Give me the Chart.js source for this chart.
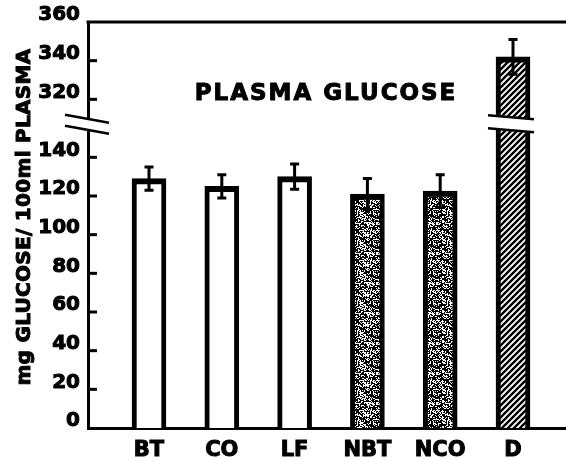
<!DOCTYPE html>
<html>
<head>
<meta charset="utf-8">
<script src="https://cdn.jsdelivr.net/npm/chart.js@4.4.1/dist/chart.umd.min.js"></script>
<style>
  body { margin: 0; background: #fff; }
  #wrap { width: 566px; height: 461px; position: relative; }
</style>
</head>
<body>
<div id="wrap"><canvas id="glucoseChart"></canvas></div>
<script>
const categories = ['BT', 'CO', 'LF', 'NBT', 'NCO', 'D'];
const glucose = [129, 125, 130, 121, 122.5, 342];
const glucoseErr = [6, 6, 6.5, 8, 8.5, 9];
const yTicks = [0, 20, 40, 60, 80, 100, 120, 140, 320, 340, 360];

// broken y axis: 140..320 is squeezed into a short gap
const BREAK_LOW = 140;
const BREAK_HIGH = 320;
const BREAK_GAP = 30;

function toAxis(v) {
  if (v <= BREAK_LOW) return v;
  if (v >= BREAK_HIGH) return v - BREAK_HIGH + BREAK_LOW + BREAK_GAP;
  return BREAK_LOW + BREAK_GAP / 2;
}
function fromAxis(v) {
  return v <= BREAK_LOW ? v : v - BREAK_LOW - BREAK_GAP + BREAK_HIGH;
}

const FONT = 'DejaVu Sans';
const canvas = document.getElementById('glucoseChart');
const ctx = canvas.getContext('2d');

// speckled grey texture (fixed hash, not data)
function stipplePattern() {
  const n = 30;
  const c = document.createElement('canvas');
  c.width = n; c.height = n;
  const g = c.getContext('2d');
  g.fillStyle = '#000';
  g.fillRect(0, 0, n, n);
  g.fillStyle = '#fff';
  for (let i = 0; i < n; i++) {
    for (let j = 0; j < n; j++) {
      const h = Math.sin(i * 12.9898 + j * 78.233) * 43758.5453;
      if (h - Math.floor(h) < 0.42) g.fillRect(i, j, 1, 1);
    }
  }
  return ctx.createPattern(c, 'repeat');
}

function hatchPattern() {
  const c = document.createElement('canvas');
  c.width = 6; c.height = 6;
  const g = c.getContext('2d');
  g.fillStyle = '#fff';
  g.fillRect(0, 0, 6, 6);
  g.strokeStyle = '#000';
  g.lineWidth = 2.4;
  g.beginPath();
  g.moveTo(-1, 7); g.lineTo(7, -1);
  g.moveTo(-4, 4); g.lineTo(4, -4);
  g.moveTo(2, 10); g.lineTo(10, 2);
  g.stroke();
  return ctx.createPattern(c, 'repeat');
}

const stipple = stipplePattern();
const hatch = hatchPattern();
const barFills = ['#fff', '#fff', '#fff', stipple, stipple, hatch];

function drawBreak(c, x0, x1, yc, slope, sep) {
  const xm = (x0 + x1) / 2;
  const yAt = (x, k) => yc + k * sep + slope * (x - xm);
  c.fillStyle = '#fff';
  c.beginPath();
  c.moveTo(x0, yAt(x0, -1));
  c.lineTo(x1, yAt(x1, -1));
  c.lineTo(x1, yAt(x1, 1));
  c.lineTo(x0, yAt(x0, 1));
  c.closePath();
  c.fill();
  c.strokeStyle = '#000';
  c.lineWidth = 2.5;
  c.beginPath();
  c.moveTo(x0, yAt(x0, -1)); c.lineTo(x1, yAt(x1, -1));
  c.moveTo(x0, yAt(x0, 1)); c.lineTo(x1, yAt(x1, 1));
  c.stroke();
}

function boldText(c, text, x, y) {
  c.fillText(text, x, y);
  c.strokeText(text, x, y);
}

const decorations = {
  id: 'decorations',
  afterDatasetsDraw(chart) {
    const c = chart.ctx, xs = chart.scales.x, ys = chart.scales.y;
    c.save();
    c.strokeStyle = '#000';
    c.lineWidth = 3;
    glucose.forEach((v, i) => {
      const px = xs.getPixelForValue(i);
      const top = ys.getPixelForValue(toAxis(v + glucoseErr[i]));
      const bot = ys.getPixelForValue(toAxis(v - glucoseErr[i]));
      c.beginPath();
      c.moveTo(px, top); c.lineTo(px, bot);
      c.moveTo(px - 4.5, top); c.lineTo(px + 4.5, top);
      c.moveTo(px - 4.5, bot); c.lineTo(px + 4.5, bot);
      c.stroke();
    });
    c.restore();
  },
  afterDraw(chart) {
    const c = chart.ctx, ys = chart.scales.y;
    const area = chart.chartArea;
    c.save();
    // top frame line
    c.strokeStyle = '#000';
    c.lineWidth = 3;
    c.beginPath();
    c.moveTo(area.left - 1.5, area.top);
    c.lineTo(area.right, area.top);
    c.stroke();
    // inward tick marks
    ys.ticks.forEach((t, i) => {
      if (i === 0 || i === ys.ticks.length - 1) return;
      const py = ys.getPixelForValue(t.value);
      c.beginPath();
      c.moveTo(area.left, py);
      c.lineTo(area.left + 9, py);
      c.stroke();
    });
    // axis break marks
    const yc = ys.getPixelForValue(BREAK_LOW + BREAK_GAP * 0.57);
    drawBreak(c, area.left - 23, area.left + 21, yc, 0.18, 5.5);
    const meta = chart.getDatasetMeta(0);
    glucose.forEach((v, i) => {
      if (v < BREAK_HIGH) return;
      const bar = meta.data[i];
      drawBreak(c, bar.x - bar.width / 2 - 8, bar.x + bar.width / 2 + 4, yc - 0.5, 0.09, 6.5);
    });
    // title inside the plot
    c.fillStyle = '#000';
    c.strokeStyle = '#000';
    c.lineWidth = 1;
    c.font = 'bold 23px ' + FONT;
    c.letterSpacing = '2px';
    c.textAlign = 'center';
    c.textBaseline = 'middle';
    boldText(c, 'PLASMA GLUCOSE', area.left + 238, area.top + 72);
    // y axis title
    c.letterSpacing = '0.3px';
    c.font = 'bold 20px ' + FONT;
    c.translate(25, 217);
    c.rotate(-Math.PI / 2);
    boldText(c, 'mg GLUCOSE/ 100ml PLASMA', 0, 0);
    c.restore();
  }
};

new Chart(ctx, {
  type: 'bar',
  data: {
    datasets: [{
      data: glucose.map((v, i) => ({ x: i, y: toAxis(v) })),
      backgroundColor: barFills,
      borderColor: '#000',
      borderWidth: { top: 6, left: 5, right: 5, bottom: 0 },
      borderSkipped: 'bottom',
      barThickness: 34
    }]
  },
  options: {
    responsive: true,
    maintainAspectRatio: false,
    animation: false,
    layout: { padding: { top: 22, left: 0, right: 0, bottom: 0 } },
    plugins: {
      legend: { display: false },
      tooltip: { enabled: false }
    },
    scales: {
      x: {
        type: 'linear',
        offset: false,
        min: -0.838,
        max: 5.728,
        afterBuildTicks: s => { s.ticks = categories.map((c, i) => ({ value: i })); },
        afterFit: s => { s.height = 33; },
        grid: { display: false, drawTicks: false, offset: false },
        border: { display: true, color: '#000', width: 3 },
        ticks: {
          callback: v => categories[v],
          color: '#000',
          textStrokeColor: '#000',
          textStrokeWidth: 1,
          font: { family: FONT, weight: 'bold', size: 21 },
          padding: 10,
          maxRotation: 0,
          autoSkip: false
        }
      },
      y: {
        min: 0,
        max: toAxis(360),
        afterBuildTicks: s => { s.ticks = yTicks.map(v => ({ value: toAxis(v) })); },
        afterFit: s => { s.width = 88; },
        grid: { display: false, drawTicks: false },
        border: { display: true, color: '#000', width: 3 },
        ticks: {
          callback: v => String(Math.round(fromAxis(v))),
          color: '#000',
          textStrokeColor: '#000',
          textStrokeWidth: 1,
          font: { family: FONT, weight: 'bold', size: 20 },
          labelOffset: -7,
          padding: 8,
          autoSkip: false
        }
      }
    }
  },
  plugins: [decorations]
});
</script>
</body>
</html>
